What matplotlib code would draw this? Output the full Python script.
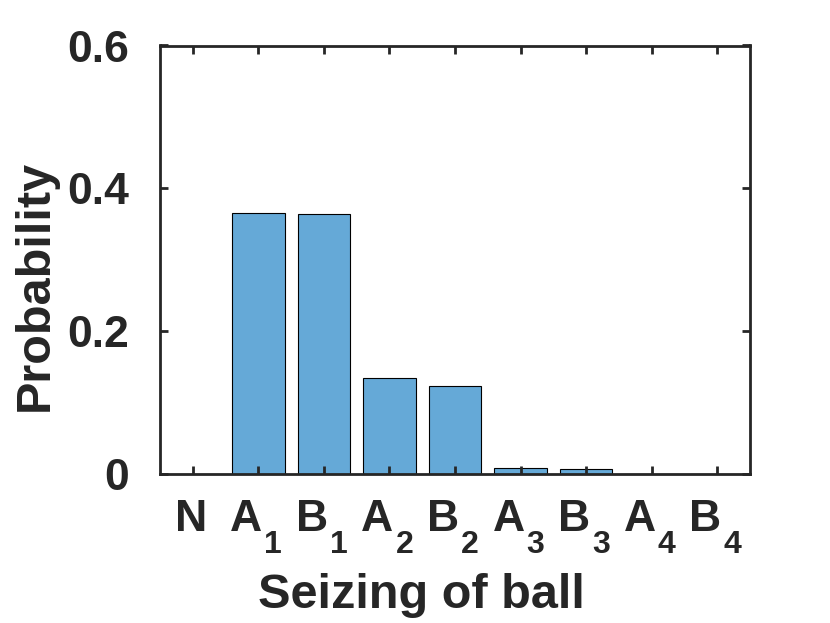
import matplotlib
matplotlib.use("Agg")
import matplotlib.pyplot as plt
import matplotlib.transforms as mtransforms
import numpy as np

# Data
letters = ["N", "A", "B", "A", "B", "A", "B", "A", "B"]
subs = ["", "1", "1", "2", "2", "3", "3", "4", "4"]
probs = [0.0, 0.366, 0.364, 0.134, 0.123, 0.008, 0.007, 0.0, 0.0]
yticks = [0, 0.2, 0.4, 0.6]
ytick_labels = ["0", "0.2", "0.4", "0.6"]

plt.rcParams["font.family"] = "Liberation Sans"
plt.rcParams["font.weight"] = "bold"

dark = "#262626"
W, H = 830, 623

fig = plt.figure(figsize=(W / 100, H / 100), dpi=100)
ax = fig.add_axes([160 / W, 1 - 474 / H, 590 / W, 428.5 / H])

x = np.arange(1, len(letters) + 1)
ax.bar(x, probs, width=0.8, color="#65A9D7", edgecolor="black", linewidth=0.8)

ax.set_xlim(0.5, len(letters) + 0.5)
ax.set_ylim(0, 0.6)
ax.set_xticks(x)
ax.set_xticklabels([""] * len(x))
ax.set_yticks(yticks)
ax.set_yticklabels(ytick_labels)

for s in ax.spines.values():
    s.set_linewidth(2.0)
    s.set_color(dark)

ax.tick_params(direction="in", length=6, width=2, colors=dark,
               top=True, right=True, labelsize=32, pad=22)
for t in ax.get_yticklabels():
    t.set_fontweight("bold")
    t.set_color(dark)

# x tick labels with big, dropped subscripts (MATLAB look)
base = mtransforms.blended_transform_factory(ax.transData, ax.transAxes)
def shifted(dx_px, dy_px):
    return base + mtransforms.ScaledTranslation(dx_px / 100, dy_px / 100, fig.dpi_scale_trans)

for xi, let, sub in zip(x, letters, subs):
    if sub:
        ax.text(xi, 0, let, transform=shifted(4, -57), ha="right", va="baseline",
                fontsize=32, fontweight="bold", color=dark)
        ax.text(xi, 0, sub, transform=shifted(6, -79), ha="left", va="baseline",
                fontsize=23, fontweight="bold", color=dark)
    else:
        ax.text(xi, 0, let, transform=shifted(-2, -57), ha="center", va="baseline",
                fontsize=32, fontweight="bold", color=dark)

fig.text(421 / W, 1 - 608 / H, "Seizing of ball", ha="center", va="baseline",
         fontsize=35, fontweight="bold", color=dark)
fig.text(47.5 / W, 1 - 285 / H, "Probability", ha="center", va="baseline",
         rotation=90, rotation_mode="anchor",
         fontsize=35, fontweight="bold", color=dark)

fig.savefig("out.png", dpi=100)
